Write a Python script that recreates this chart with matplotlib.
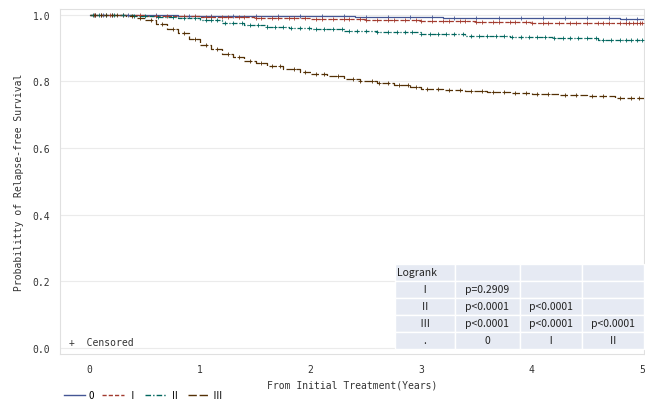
import numpy as np
import matplotlib
matplotlib.use('Agg')
from matplotlib import pyplot as plt
from matplotlib.lines import Line2D

# Kaplan-Meier step data
t_0 = [0, 0.8, 1.6, 2.4, 3.2, 4.0, 4.8, 5.05]
s_0 = [1.0, 0.998, 0.996, 0.994, 0.992, 0.990, 0.988, 0.987]
t_1 = [0, 0.5, 1.0, 1.5, 2.0, 2.5, 3.0, 3.5, 4.0, 4.5, 5.05]
s_1 = [1.0, 0.997, 0.994, 0.991, 0.988, 0.985, 0.982, 0.980, 0.977, 0.975, 0.973]
t_2 = [0, 0.4, 0.6, 0.8, 1.0, 1.2, 1.4, 1.6, 1.8, 2.0, 2.3, 2.6, 3.0, 3.4, 3.8, 4.2, 4.6, 5.05]
s_2 = [1.0, 0.998, 0.995, 0.990, 0.984, 0.977, 0.970, 0.965, 0.960, 0.956, 0.952, 0.947,
       0.942, 0.937, 0.933, 0.929, 0.925, 0.921]
t_3 = [0, 0.33, 0.42, 0.50, 0.60, 0.70, 0.80, 0.90, 1.00, 1.10, 1.20, 1.30, 1.40, 1.50,
       1.60, 1.75, 1.90, 2.00, 2.15, 2.30, 2.45, 2.60, 2.75, 2.90, 3.00, 3.20, 3.40, 3.60,
       3.80, 4.00, 4.25, 4.50, 4.75, 5.05]
s_3 = [1.0, 0.996, 0.991, 0.984, 0.972, 0.958, 0.944, 0.928, 0.908, 0.896, 0.883, 0.872,
       0.862, 0.855, 0.847, 0.838, 0.828, 0.822, 0.815, 0.808, 0.802, 0.795, 0.790, 0.782,
       0.776, 0.773, 0.771, 0.768, 0.765, 0.762, 0.758, 0.755, 0.750, 0.745]

# censoring times
c_0 = [0.05, 0.12, 0.2, 0.35, 0.6, 0.9, 1.1, 1.3, 1.5, 1.7, 1.9, 2.1, 2.3, 2.5, 2.7, 2.9,
       3.1, 3.3, 3.5, 3.7, 3.9, 4.1, 4.3, 4.5, 4.7, 4.85, 4.95]
c_1 = [0.04, 0.1, 0.18, 0.3, 0.45, 0.6, 0.7, 0.85, 0.95, 1.05, 1.1, 1.2, 1.25, 1.35, 1.4,
       1.5, 1.55, 1.65, 1.7, 1.8, 1.85, 1.95, 2.05, 2.1, 2.2, 2.3, 2.35, 2.45, 2.5, 2.6,
       2.7, 2.75, 2.85, 2.95, 3.0, 3.1, 3.2, 3.25, 3.35, 3.4, 3.5, 3.55, 3.65, 3.7, 3.8,
       3.85, 3.95, 4.0, 4.1, 4.15, 4.25, 4.35, 4.4, 4.5, 4.6, 4.65, 4.7, 4.8, 4.85, 4.88,
       4.92, 4.95, 4.98, 5.0]
c_2 = [0.03, 0.08, 0.15, 0.22, 0.3, 0.4, 0.5, 0.62, 0.75, 0.85, 0.95, 1.05, 1.1, 1.15, 1.22,
       1.3, 1.38, 1.45, 1.52, 1.6, 1.68, 1.75, 1.82, 1.9, 1.98, 2.05, 2.12, 2.2, 2.28, 2.35,
       2.42, 2.5, 2.6, 2.7, 2.78, 2.85, 2.92, 3.0, 3.08, 3.15, 3.22, 3.3, 3.38, 3.45, 3.52,
       3.6, 3.68, 3.75, 3.82, 3.9, 3.98, 4.05, 4.12, 4.2, 4.28, 4.35, 4.42, 4.5, 4.58,
       4.65, 4.72, 4.8, 4.85, 4.9, 4.95, 5.0]
c_3 = [0.05, 0.1, 0.15, 0.2, 0.25, 0.38, 0.45, 0.55, 0.65, 0.75, 0.85, 0.95, 1.05, 1.15,
       1.25, 1.35, 1.45, 1.55, 1.65, 1.72, 1.85, 1.95, 2.05, 2.12, 2.25, 2.38, 2.45, 2.55,
       2.62, 2.7, 2.8, 2.88, 2.95, 3.05, 3.15, 3.25, 3.35, 3.45, 3.55, 3.65, 3.75, 3.85,
       3.95, 4.05, 4.15, 4.3, 4.4, 4.55, 4.65, 4.8, 4.9, 4.97]

groups = ['0', 'Ⅰ', 'Ⅱ', 'Ⅲ']
colors = ['#445694', '#A23A2E', '#01665E', '#543005']
styles = ['-', (0, (3, 1.5)), (0, (4, 1.5, 1, 1.5)), (0, (6, 2))]

logrank_rows = ['Ⅰ', 'Ⅱ', 'Ⅲ', '.']
logrank_vals = [['p=0.2909', '', ''],
                ['p<0.0001', 'p<0.0001', ''],
                ['p<0.0001', 'p<0.0001', 'p<0.0001'],
                ['0', 'Ⅰ', 'Ⅱ']]

mono = ['DejaVu Sans Mono', 'Noto Sans CJK JP']
cjk = ['Noto Sans CJK JP', 'DejaVu Sans']

fig = plt.figure(figsize=(6.45, 4.1), dpi=100)
ax = fig.add_axes([0.093, 0.134, 0.906, 0.842])

data = [(t_0, s_0, c_0), (t_1, s_1, c_1), (t_2, s_2, c_2), (t_3, s_3, c_3)]
for (t, s, c), col, ls in zip(data, colors, styles):
    ax.step(t, s, where='post', color=col, lw=0.9, linestyle=ls, zorder=3)
    t = np.asarray(t)
    idx = np.searchsorted(t, c, side='right') - 1
    ax.plot(c, np.asarray(s)[idx], linestyle='none', marker='+', ms=3.2, mew=0.6,
            color=col, zorder=4)

ax.set_xlim(-0.27, 5.02)
ax.set_ylim(-0.018, 1.018)
ax.set_xticks([0, 1, 2, 3, 4, 5])
ax.set_yticks([0.0, 0.2, 0.4, 0.6, 0.8, 1.0])
ax.set_yticklabels(['0.0', '0.2', '0.4', '0.6', '0.8', '1.0'])
ax.grid(axis='y', color='#EBEBEB', lw=0.8, zorder=0)
for sp in ax.spines.values():
    sp.set_color('#E0E0E0')
ax.tick_params(length=0, labelsize=7, labelcolor='#333333', pad=7)
for lab in ax.get_xticklabels() + ax.get_yticklabels():
    lab.set_family(mono)
ax.set_xlabel('From Initial Treatment(Years)', family=mono, fontsize=7, color='#333333',
              labelpad=4)
ax.set_ylabel('Probabilitty of Relapse-free Survival', family=mono, fontsize=7,
              color='#333333', labelpad=6)

ax.text(0.015, 0.02, '+  Censored', transform=ax.transAxes, family=mono, fontsize=7,
        color='#333333', va='bottom')

# logrank table
cell_text = [['Logrank', '', '', '']] + [[r] + v for r, v in zip(logrank_rows, logrank_vals)]
tab = ax.table(cellText=cell_text, bbox=[0.573, 0.015, 0.427, 0.246], cellLoc='center',
               colWidths=[0.24, 0.26, 0.25, 0.25], zorder=5)
tab.auto_set_font_size(False)
for (r, cidx), cell in tab.get_celld().items():
    cell.set_facecolor('#E6EAF3')
    cell.set_edgecolor('white')
    cell.set_linewidth(1.0)
    txt = cell.get_text()
    txt.set_fontsize(7.5)
    txt.set_family(cjk)
    txt.set_color('#222222')
    if r == 0 and cidx == 0:
        txt.set_ha('left')
        cell.PAD = 0.03

handles = [Line2D([], [], color=c, lw=1.0, linestyle=ls) for c, ls in zip(colors, styles)]
fig.legend(handles, groups, loc='lower left', bbox_to_anchor=(0.085, 0.0), ncol=4,
           frameon=False, handlelength=2.2, handletextpad=0.4, columnspacing=0.8,
           prop={'family': cjk, 'size': 7})

fig.savefig('out.png', dpi=100)
